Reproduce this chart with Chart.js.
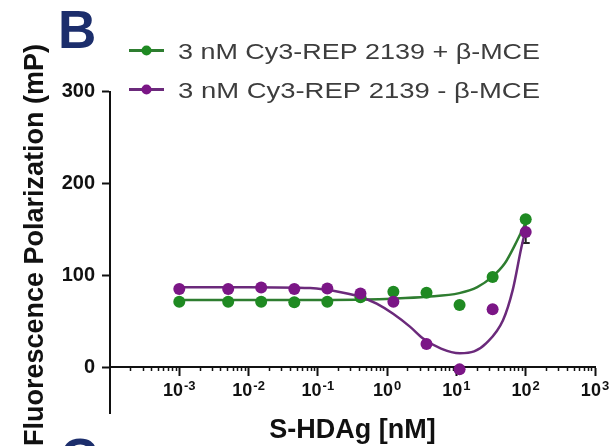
<!DOCTYPE html>
<html>
<head>
<meta charset="utf-8">
<script src="https://cdn.jsdelivr.net/npm/chart.js@4.4.1/dist/chart.umd.min.js"></script>
<style>
html,body{margin:0;padding:0;background:#ffffff;}
#wrap{width:616px;height:446px;position:relative;}
</style>
</head>
<body>
<div id="wrap"><canvas id="c" width="616" height="446"></canvas></div>
<script>
// ---- data ----
const concentrations = [0.001, 0.00508, 0.0152, 0.0457, 0.137, 0.412, 1.23, 3.70, 11.1, 33.3, 100];
const plusBME  = [71, 71, 71, 70.5, 71, 76, 82, 81, 67.5, 98, 161];
const minusBME = [85, 85, 86.5, 85, 85.5, 80, 71, 25, -2.5, 63, 147];
const minusSD  = [0, 0, 0, 0, 0, 0, 0, 0, 0, 0, 12];

const fitPlusX = [0.001, 0.01, 0.1, 0.5, 1.2, 3.7, 11, 20, 33, 50, 70, 100];
const fitPlusY = [73, 73, 73, 73.5, 74.5, 76.6, 80.5, 87, 98.4, 113, 133, 157];

const fitMinusX = [0.001, 0.01, 0.0773, 0.233, 0.405, 0.706, 1.22, 2.13, 3.31, 6, 11.2, 18, 27, 47, 65, 87, 100];
const fitMinusY = [87, 87, 86, 81, 76.6, 69, 58, 44, 31, 20, 15, 17, 26, 51, 84, 131, 150];

const seriesLabels = ['3 nM Cy3-REP 2139 + \u03B2-MCE', '3 nM Cy3-REP 2139 - \u03B2-MCE'];
const xTickExponents = [-3, -2, -1, 0, 1, 2, 3];
const yTickValues = [0, 100, 200, 300];
const xTitle = 'S-HDAg [nM]';
const yTitle = 'Fluorescence Polarization (mP)';
const panelLetters = ['B', 'C'];

// ---- styles ----
const GREEN_PT = '#1f8a22';
const GREEN_LN = '#2e7d30';
const PURPLE_PT = '#7b1686';
const PURPLE_LN = '#6b2a7b';
const FONT = '"Liberation Sans", Arial, Helvetica, sans-serif';

const toXY = (xs, ys) => xs.map((x, i) => ({x: x, y: ys[i]}));

const minorTicks = [];
for (let e = -4; e < 3; e++) {
  for (let m = 2; m <= 9; m++) minorTicks.push({value: m * Math.pow(10, e)});
}

const decorPlugin = {
  id: 'decor',
  beforeDatasetsDraw(chart) {
    const ctx = chart.ctx, xs = chart.scales.x, ys = chart.scales.y;
    ctx.save();
    ctx.strokeStyle = '#262626';
    ctx.lineWidth = 2;
    concentrations.forEach((c, i) => {
      const sd = minusSD[i];
      if (!sd) return;
      const px = xs.getPixelForValue(c);
      const y1 = ys.getPixelForValue(minusBME[i] - sd);
      const y2 = ys.getPixelForValue(minusBME[i] + sd);
      ctx.beginPath();
      ctx.moveTo(px, y1); ctx.lineTo(px, y2);
      ctx.moveTo(px - 4, y1); ctx.lineTo(px + 4, y1);
      ctx.moveTo(px - 4, y2); ctx.lineTo(px + 4, y2);
      ctx.stroke();
    });
    ctx.restore();
  },
  afterDraw(chart) {
    const ctx = chart.ctx, xs = chart.scales.x, ys = chart.scales.y;
    const area = chart.chartArea;
    const y0 = ys.getPixelForValue(0);
    ctx.save();
    // x tick labels with superscript exponents
    ctx.fillStyle = '#111111';
    ctx.textBaseline = 'alphabetic';
    ctx.textAlign = 'left';
    xTickExponents.forEach(e => {
      const px = xs.getPixelForValue(Math.pow(10, e));
      ctx.font = 'bold 18px ' + FONT;
      const w1 = ctx.measureText('10').width;
      ctx.font = 'bold 13px ' + FONT;
      const exp = String(e);
      const w2 = ctx.measureText(exp).width;
      const start = px - (w1 + w2 + 1) / 2;
      ctx.font = 'bold 18px ' + FONT;
      ctx.fillText('10', start, y0 + 29);
      ctx.font = 'bold 13px ' + FONT;
      ctx.fillText(exp, start + w1 + 1, y0 + 23);
    });
    // x title
    ctx.font = 'bold 27px ' + FONT;
    ctx.textAlign = 'center';
    ctx.fillText(xTitle, (area.left + area.right) / 2, y0 + 71);
    // y title
    ctx.save();
    ctx.translate(43, 245);
    ctx.rotate(-Math.PI / 2);
    ctx.font = 'bold 27px ' + FONT;
    ctx.textAlign = 'center';
    ctx.fillText(yTitle, 0, 0);
    ctx.restore();
    // panel letters
    ctx.fillStyle = '#1c2e6c';
    ctx.font = 'bold 53px ' + FONT;
    ctx.textAlign = 'left';
    ctx.fillText(panelLetters[0], 58, 48);
    ctx.fillText(panelLetters[1], 60, 476);
    // legend
    const rows = [50.5, 89.5];
    const cols = [[GREEN_LN, GREEN_PT], [PURPLE_LN, PURPLE_PT]];
    rows.forEach((ry, i) => {
      ctx.strokeStyle = cols[i][0];
      ctx.lineWidth = 3;
      ctx.beginPath();
      ctx.moveTo(129, ry); ctx.lineTo(164, ry);
      ctx.stroke();
      ctx.fillStyle = cols[i][1];
      ctx.beginPath();
      ctx.arc(146.5, ry, 5, 0, Math.PI * 2);
      ctx.fill();
      ctx.fillStyle = '#3d3d3d';
      ctx.font = '22px ' + FONT;
      const w = ctx.measureText(seriesLabels[i]).width;
      ctx.save();
      ctx.translate(178, ry + 8);
      ctx.scale(362 / w, 1);
      ctx.fillText(seriesLabels[i], 0, 0);
      ctx.restore();
    });
    ctx.restore();
  }
};

new Chart(document.getElementById('c'), {
  type: 'scatter',
  data: {
    datasets: [
      {
        label: seriesLabels[1],
        data: toXY(concentrations, minusBME),
        backgroundColor: PURPLE_PT,
        borderColor: PURPLE_PT,
        pointRadius: 6,
        pointBorderWidth: 0,
        showLine: false,
        order: 0
      },
      {
        label: seriesLabels[0],
        data: toXY(concentrations, plusBME),
        backgroundColor: GREEN_PT,
        borderColor: GREEN_PT,
        pointRadius: 6,
        pointBorderWidth: 0,
        showLine: false,
        order: 1
      },
      {
        label: 'fit -',
        data: toXY(fitMinusX, fitMinusY),
        showLine: true,
        borderColor: PURPLE_LN,
        borderWidth: 2.5,
        pointRadius: 0,
        cubicInterpolationMode: 'monotone',
        fill: false,
        order: 2
      },
      {
        label: 'fit +',
        data: toXY(fitPlusX, fitPlusY),
        showLine: true,
        borderColor: GREEN_LN,
        borderWidth: 2.5,
        pointRadius: 0,
        cubicInterpolationMode: 'monotone',
        fill: false,
        order: 3
      }
    ]
  },
  options: {
    responsive: false,
    animation: false,
    devicePixelRatio: 1,
    layout: {padding: {left: 0, top: 91.5, right: 21, bottom: 33}},
    plugins: {legend: {display: false}, tooltip: {enabled: false}},
    scales: {
      x: {
        type: 'logarithmic',
        position: {y: 0},
        min: 1e-4,
        max: 1e3,
        afterBuildTicks: s => { s.ticks = xTickExponents.map(e => ({value: Math.pow(10, e), major: true})); },
        ticks: {display: false},
        grid: {drawOnChartArea: false, drawTicks: true, tickLength: 8, tickWidth: 2, tickColor: '#111'},
        border: {display: true, color: '#111', width: 2}
      },
      x2: {
        type: 'logarithmic',
        axis: 'x',
        position: {y: 0},
        min: 1e-4,
        max: 1e3,
        afterBuildTicks: s => { s.ticks = minorTicks.map(t => ({value: t.value})); },
        ticks: {display: false},
        grid: {drawOnChartArea: false, drawTicks: true, tickLength: 4, tickWidth: 1.5, tickColor: '#111'},
        border: {display: false}
      },
      y: {
        type: 'linear',
        position: 'left',
        min: -50,
        max: 300,
        afterBuildTicks: s => { s.ticks = yTickValues.map(v => ({value: v})); },
        afterFit: s => { s.width = 110; },
        ticks: {color: '#111', padding: 7, font: {family: FONT, size: 20, weight: 'bold'}},
        grid: {drawOnChartArea: false, drawTicks: true, tickLength: 8, tickWidth: 2, tickColor: '#111'},
        border: {display: true, color: '#111', width: 2}
      }
    }
  },
  plugins: [decorPlugin]
});
</script>
</body>
</html>
